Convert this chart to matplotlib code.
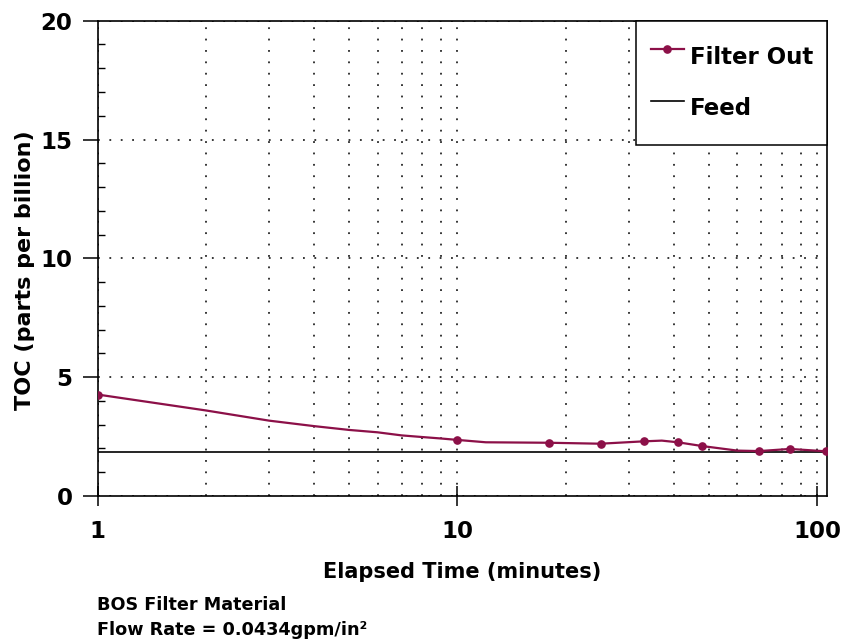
import matplotlib
matplotlib.use("Agg")
import matplotlib.pyplot as plt
import matplotlib.ticker as mticker

plt.rcParams['font.family'] = ['DejaVu Sans']
plt.rcParams['font.weight'] = 'bold'
plt.rcParams['lines.scale_dashes'] = False

# Filter Out curve (minutes, ppb)
time_min = [1, 2, 3, 4, 5, 6, 7, 8, 9, 10, 12, 18, 25, 33, 37, 41, 48, 60, 69, 84, 106]
filter_out = [4.27, 3.60, 3.17, 2.94, 2.78, 2.68, 2.55, 2.48, 2.42, 2.36, 2.26,
              2.24, 2.20, 2.30, 2.33, 2.26, 2.10, 1.91, 1.89, 1.98, 1.88]
# which of the points above carry a marker in the original
sampled = [0, 9, 11, 12, 13, 15, 16, 18, 19, 20]
feed_toc = 1.85

x_ticks = [1, 10, 100]
y_ticks = [0, 5, 10, 15, 20]

maroon = '#8c1048'

fig = plt.figure(figsize=(8.42, 6.39), dpi=100)
ax = fig.add_axes([0.1158, 0.2238, 0.8664, 0.7438])

ax.axhline(feed_toc, color='black', lw=1.2, label='Feed', zorder=3)
ax.plot(time_min, filter_out, color=maroon, lw=1.6, marker='o', ms=5.2,
        markevery=sampled, label='Filter Out', zorder=4)

ax.set_xscale('log')
ax.set_xlim(1, 106.5)
ax.set_ylim(0, 20)

ax.xaxis.set_major_locator(mticker.FixedLocator(x_ticks))
ax.xaxis.set_major_formatter(mticker.FuncFormatter(lambda v, p: f"{v:g}"))
ax.xaxis.set_minor_locator(mticker.LogLocator(base=10, subs=range(2, 10)))
ax.xaxis.set_minor_formatter(mticker.NullFormatter())
ax.yaxis.set_major_locator(mticker.FixedLocator(y_ticks))
ax.yaxis.set_minor_locator(mticker.MultipleLocator(1))

ax.tick_params(axis='x', which='major', direction='inout', length=14, width=1.1,
               pad=10, labelsize=16.5)
ax.tick_params(axis='x', which='minor', length=0)
ax.tick_params(axis='y', which='major', direction='out', length=11, width=1.1,
               pad=7, labelsize=16.5)
ax.tick_params(axis='y', which='minor', direction='in', length=5, width=1.0)

dots = (0, (1.3, 6.9))
ax.xaxis.grid(True, which='both', color='black', lw=1.1, linestyle=dots)
ax.yaxis.grid(True, which='major', color='black', lw=1.1, linestyle=dots)
ax.set_axisbelow(True)

for s in ax.spines.values():
    s.set_linewidth(1.2)

ax.set_xlabel('Elapsed Time (minutes)', fontsize=15, fontweight='bold')
ax.xaxis.set_label_coords(0.5, -0.139)
ax.set_ylabel('TOC (parts per billion)', fontsize=16, fontweight='bold')
ax.yaxis.set_label_coords(-0.0857, 0.4755)

handles, labels = ax.get_legend_handles_labels()
leg = ax.legend(handles[::-1], labels[::-1], loc='upper right', bbox_to_anchor=(1, 1),
                borderaxespad=0, fontsize=16.5, fancybox=False, framealpha=1,
                edgecolor='black', numpoints=1, handlelength=1.45, handleheight=2.6,
                handletextpad=0.25, labelspacing=0.3, borderpad=0.62)
leg.get_frame().set_linewidth(1.1)
leg.set_zorder(10)

fig.text(97 / 842, 1 - 605 / 639, 'BOS Filter Material', fontsize=12.7,
         fontweight='bold', va='center', ha='left')
fig.text(97 / 842, 1 - 630 / 639, 'Flow Rate = 0.0434gpm/in\u00b2', fontsize=12.7,
         fontweight='bold', va='center', ha='left')

fig.savefig('out.png', dpi=100)
